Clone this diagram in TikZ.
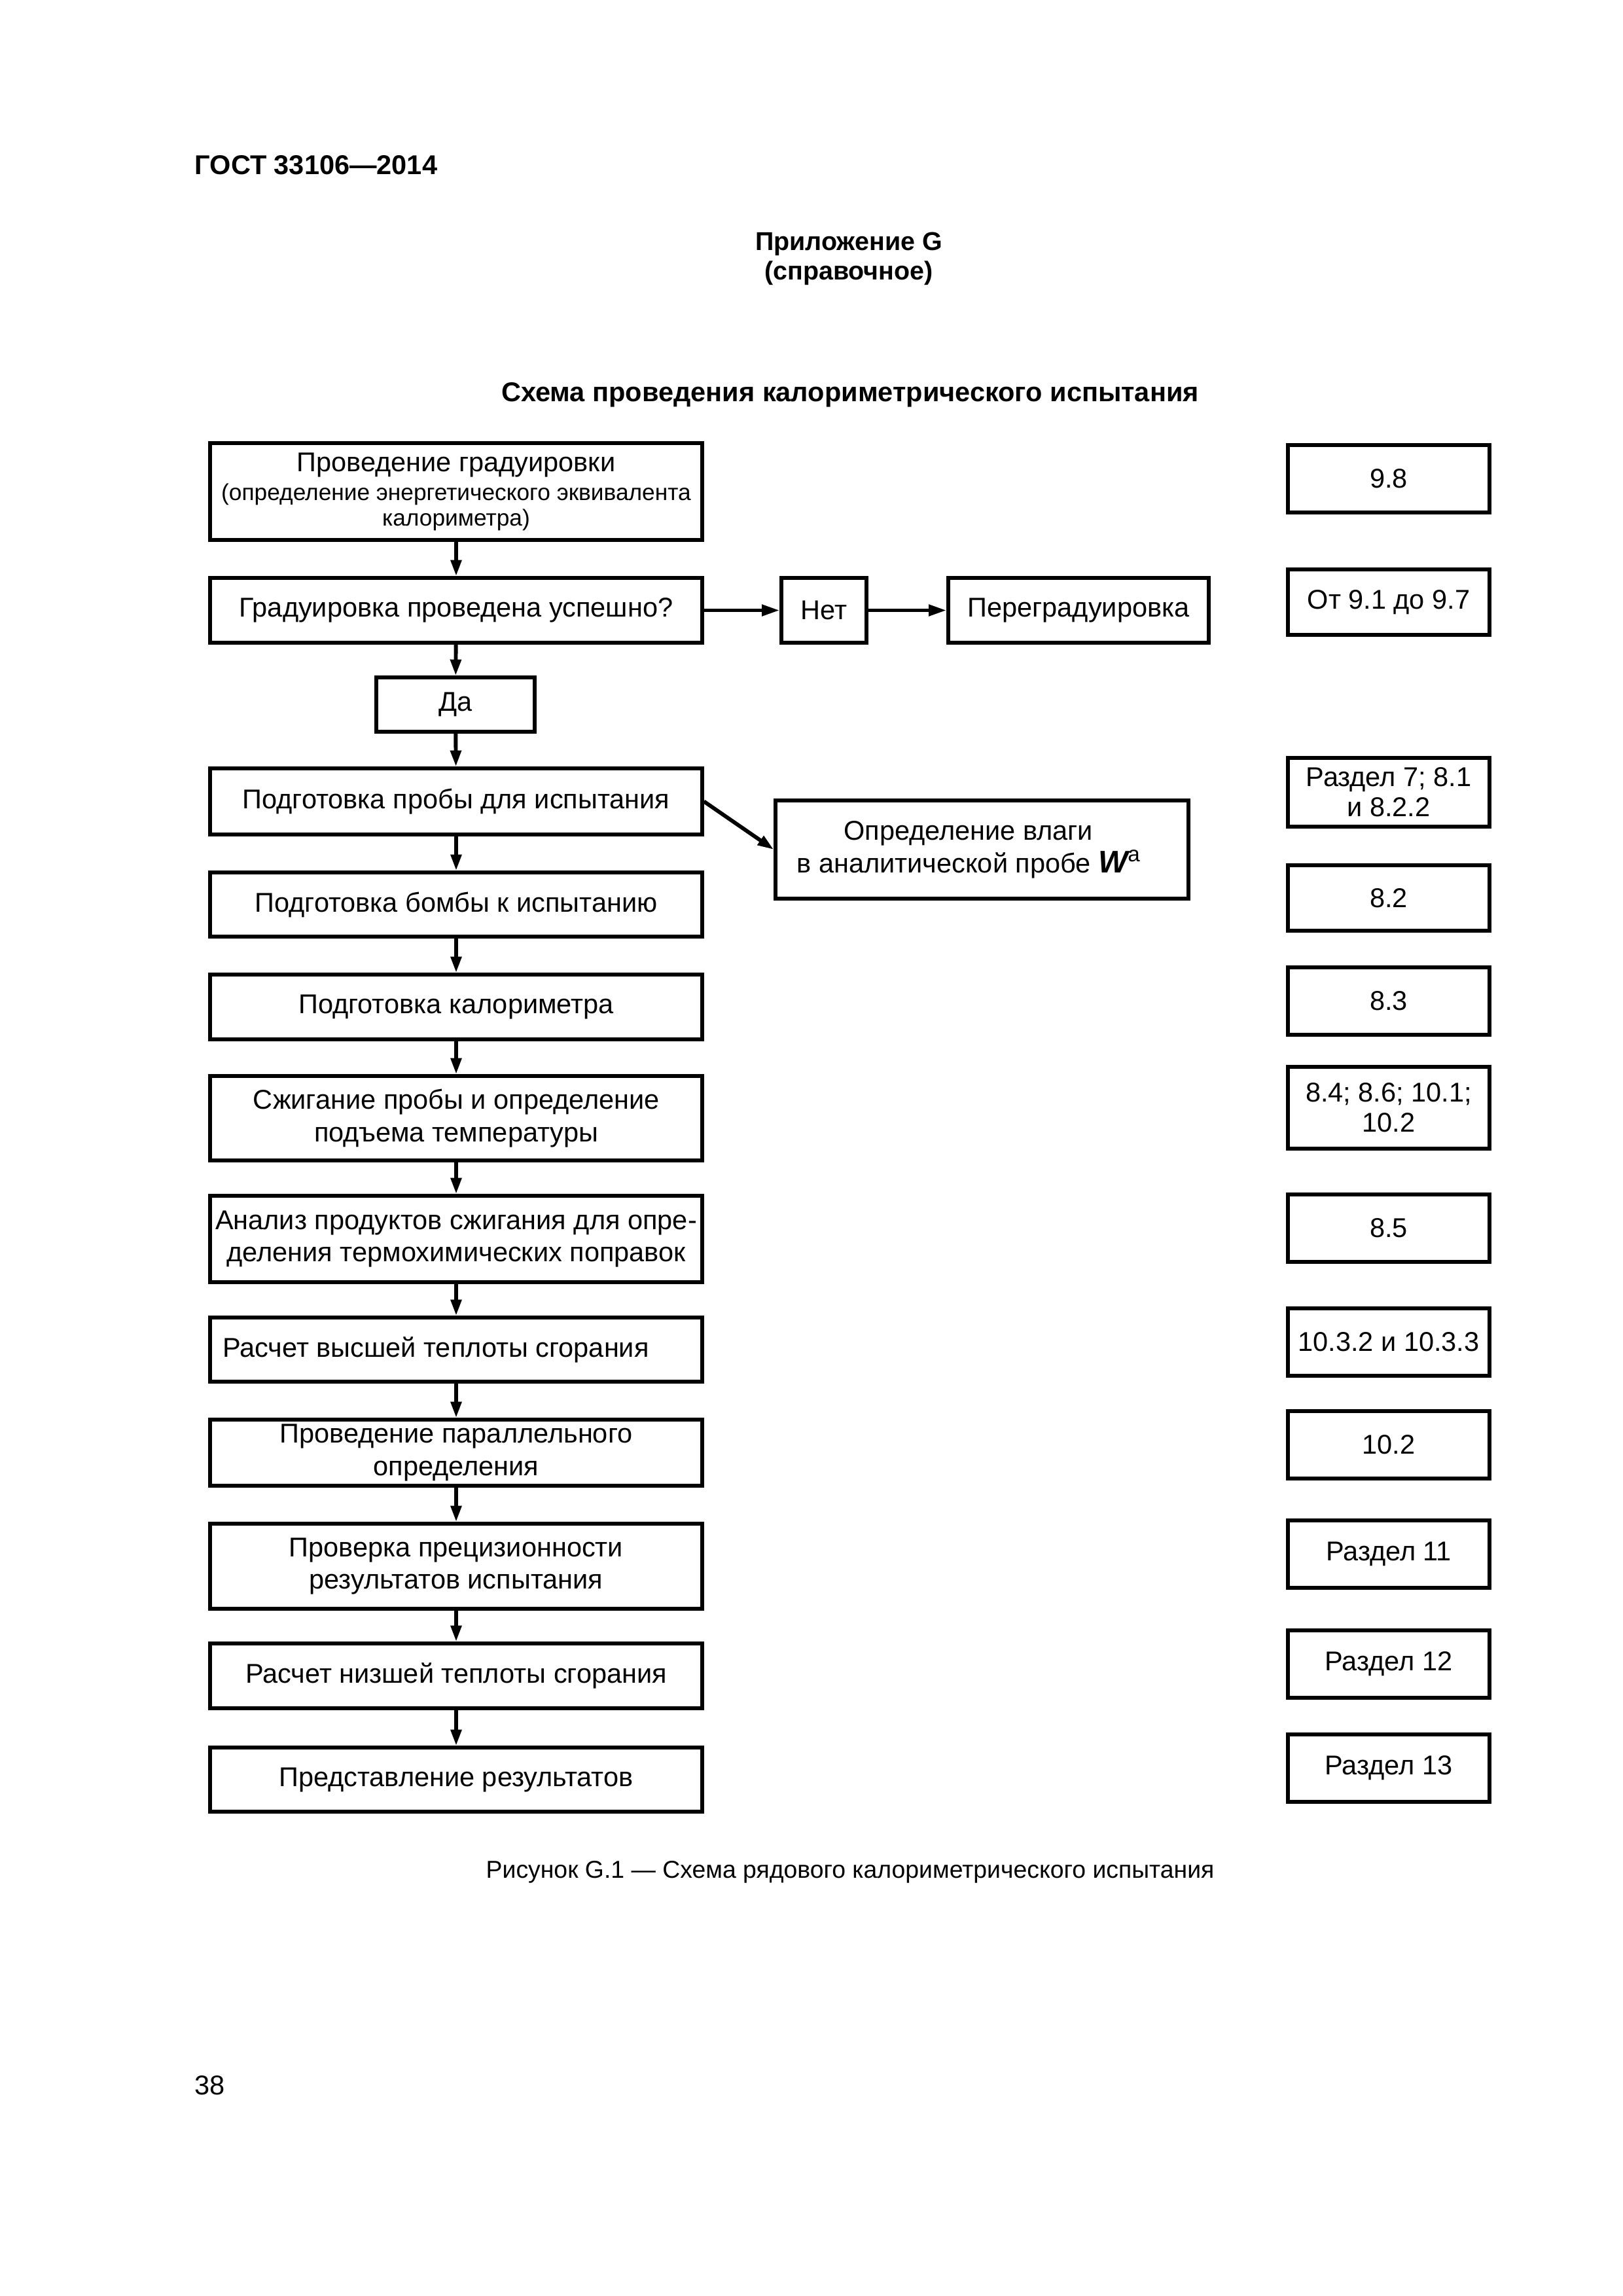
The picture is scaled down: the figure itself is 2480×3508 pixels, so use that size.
\documentclass[tikz,border=0pt]{standalone}
\usepackage{fontspec}
\setmainfont{Liberation Sans}
\usetikzlibrary{arrows.meta}
\newcommand{\mybox}[6]{%
  \pgfmathsetmacro{\myBW}{(#3-#2)*0.0846667}%
  \pgfmathsetmacro{\myBH}{(#5-#4)*0.0846667}%
  \pgfmathsetmacro{\myCX}{(#2+#3)/2}%
  \pgfmathsetmacro{\myCY}{(#4+#5)/2}%
  \node[box, minimum width=\myBW mm, minimum height=\myBH mm] (#1) at (\myCX,\myCY) {#6};}
\newcommand{\bigf}{\fontsize{10}{12}\selectfont}
\tikzset{
  box/.style={draw, line width=0.45mm, inner sep=0pt, align=center,
    font=\fontsize{10}{12}\selectfont},
  arr/.style={line width=0.5mm, -{Triangle[length=2.1mm,width=1.35mm]}},
  harr/.style={line width=0.5mm, -{Triangle[length=2.3mm,width=1.4mm]}},
}
\begin{document}
\begin{tikzpicture}[x=0.0846667mm,y=-0.0846667mm]
\useasboundingbox (0,0) rectangle (2480,3508);
\fill[white] (0,0) rectangle (2480,3508);

% header texts
\node[anchor=base west, font=\bfseries\fontsize{10}{12}\selectfont, inner sep=0] (gost) at (297,266) {ГОСТ 33106—2014};
\node[anchor=base, font=\bfseries\fontsize{9.5}{12}\selectfont, inner sep=0] (pril) at (1297,382) {Приложение G};
\node[anchor=base, font=\bfseries\fontsize{9.5}{12}\selectfont, inner sep=0] (sprav) at (1297,427) {(справочное)};
\node[anchor=base, font=\bfseries\fontsize{10}{12}\selectfont, inner sep=0] (title) at (1299,613) {Схема проведения калориметрического испытания};

% left column
\begin{scope}[box/.append style={font=\fontsize{8.5}{9.2}\selectfont}]
\mybox{b1}{321}{1073}{677}{825}{\bigf Проведение градуировки\\[1.6pt](определение энергетического эквивалента\\калориметра)}
\end{scope}
\mybox{b2}{321}{1073}{883}{982}{Градуировка проведена успешно?}
\mybox{da}{575}{817}{1035}{1118}{Да}
\mybox{net}{1194}{1324}{883}{982}{Нет}
\mybox{per}{1449}{1847}{883}{982}{Переградуировка}
\mybox{b3}{321}{1073}{1174}{1275}{Подготовка пробы для испытания}
\mybox{vl}{1185}{1816}{1223}{1373}{Определение влаги\hspace*{1em}\\в аналитической пробе {\fontsize{11.5}{12}\selectfont\bfseries\itshape W}\raisebox{0.75ex}{\fontsize{8}{8}\selectfont a}\hspace*{1em}}
\mybox{b4}{321}{1073}{1333}{1431}{Подготовка бомбы к испытанию}
\mybox{b5}{321}{1073}{1489}{1588}{Подготовка калориметра}
\mybox{b6}{321}{1073}{1644}{1773}{Сжигание пробы и определение\\подъема температуры}
\mybox{b7}{321}{1073}{1827}{1959}{Анализ продуктов сжигания для опре-\\деления термохимических поправок}
\mybox{b8}{321}{1073}{2013}{2111}{Расчет высшей теплоты сгорания\hspace*{1.5em}}
\mybox{b9}{321}{1073}{2169}{2270}{Проведение параллельного\\определения}
\mybox{b10}{321}{1073}{2328}{2458}{Проверка прецизионности\\результатов испытания}
\mybox{b11}{321}{1073}{2511}{2610}{Расчет низшей теплоты сгорания}
\mybox{b12}{321}{1073}{2670}{2768}{Представление результатов}

% right column
\tikzset{box/.append style={font=\fontsize{10}{11}\selectfont}}
\mybox{r1}{1968}{2276}{680}{783}{9.8}
\mybox{r2}{1968}{2276}{870}{970}{От 9.1 до 9.7}
\mybox{r3}{1968}{2276}{1158}{1263}{Раздел 7; 8.1\\и 8.2.2}
\mybox{r4}{1968}{2276}{1322}{1422}{8.2}
\mybox{r5}{1968}{2276}{1478}{1581}{8.3}
\mybox{r6}{1968}{2276}{1630}{1755}{8.4; 8.6; 10.1;\\10.2}
\mybox{r7}{1968}{2276}{1825}{1928}{8.5}
\mybox{r8}{1968}{2276}{1999}{2102}{10.3.2 и 10.3.3}
\mybox{r9}{1968}{2276}{2156}{2259}{10.2}
\mybox{r10}{1968}{2276}{2323}{2426}{Раздел 11}
\mybox{r11}{1968}{2276}{2491}{2594}{Раздел 12}
\mybox{r12}{1968}{2276}{2650}{2753}{Раздел 13}

% connectors
\draw[arr] (b1) -- (b2);
\draw[arr] (b2) -- (da);
\draw[arr] (da) -- (b3);
\draw[arr] (b3) -- (b4);
\draw[arr] (b4) -- (b5);
\draw[arr] (b5) -- (b6);
\draw[arr] (b6) -- (b7);
\draw[arr] (b7) -- (b8);
\draw[arr] (b8) -- (b9);
\draw[arr] (b9) -- (b10);
\draw[arr] (b10) -- (b11);
\draw[arr] (b11) -- (b12);
\draw[harr] (b2) -- (net);
\draw[harr] (net) -- (per);
\draw[arr] (b3.east) -- (vl.west);

% caption and page number
\node[anchor=base, font=\fontsize{9}{11}\selectfont, inner sep=0] (cap) at (1299,2869) {Рисунок G.1 — Схема рядового калориметрического испытания};
\node[anchor=base west, font=\fontsize{10}{12}\selectfont, inner sep=0] (page) at (297,3200) {38};
\end{tikzpicture}
\end{document}
